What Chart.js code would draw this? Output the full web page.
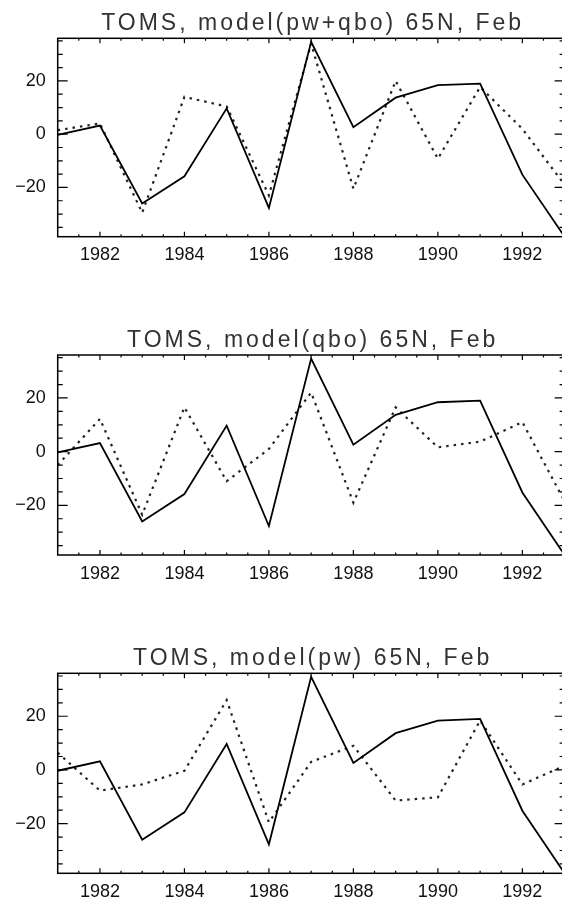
<!DOCTYPE html>
<html>
<head>
<meta charset="utf-8">
<title>TOMS vs model, 65N, Feb</title>
<script src="https://cdn.jsdelivr.net/npm/chart.js@4.4.1/dist/chart.umd.min.js"></script>
<style>
  html, body { margin: 0; padding: 0; background: #fff; overflow: hidden; }
  #wrap { position: relative; width: 562px; height: 899px; overflow: hidden; }
  #wrap canvas { position: absolute; left: 0; }
</style>
</head>
<body>
<div id="wrap">
  <canvas id="panel1"></canvas>
  <canvas id="panel2"></canvas>
  <canvas id="panel3"></canvas>
</div>
<script>
// data (anomalies, 65N, February)
const years = [1981, 1982, 1983, 1984, 1985, 1986, 1987, 1988, 1989, 1990, 1991, 1992, 1993];
const toms = [-0.3, 3.2, -26.0, -15.8, 9.7, -27.7, 34.7, 2.6, 13.7, 18.4, 19.0, -15.2, -38.5];
const modelPwQbo = [1.5, 4.0, -29.5, 14.0, 10.4, -23.0, 34.0, -20.5, 20.0, -9.2, 17.7, 2.0, -19.0];
const modelQbo = [-5.0, 12.2, -23.5, 16.5, -11.0, 1.0, 22.0, -19.0, 16.5, 1.6, 3.7, 11.0, -18.5];
const modelPw = [6.4, -7.7, -5.4, -0.3, 26.0, -19.5, 3.0, 9.0, -11.4, -10.2, 18.4, -5.4, 1.6];

const titles = [
  "TOMS, model(pw+qbo) 65N, Feb",
  "TOMS, model(qbo) 65N, Feb",
  "TOMS, model(pw) 65N, Feb"
];
const xTickYears = [1982, 1984, 1986, 1988, 1990, 1992];
const yTickValues = [-20, 0, 20];

// page layout: canvas top, plot top, plot bottom (px)
const layout = [
  { id: "panel1", top: 0,   plotTop: 38.3,  plotBottom: 236.7 },
  { id: "panel2", top: 315, plotTop: 355,   plotBottom: 555 },
  { id: "panel3", top: 633, plotTop: 673.3, plotBottom: 873.3 }
];
const modelSeries = [modelPwQbo, modelQbo, modelPw];

const CANVAS_W = 566;
const PLOT_LEFT = 57.7;
const PLOT_RIGHT = 564.6;
const BELOW = 26;

// frame, inward ticks (IDL style) and spaced title
const idlFrame = {
  id: "idlFrame",
  afterDraw(chart, args, opts) {
    const ctx = chart.ctx;
    const a = chart.chartArea;
    const x = chart.scales.x, y = chart.scales.y;
    ctx.save();
    ctx.strokeStyle = "#000";
    ctx.lineWidth = 1.2;
    ctx.beginPath();
    for (let v = -35; v <= 35; v += 5) {
      const py = y.getPixelForValue(v);
      const len = v % 20 === 0 ? 10 : 5;
      ctx.moveTo(a.left, py); ctx.lineTo(a.left + len, py);
      ctx.moveTo(a.right, py); ctx.lineTo(a.right - len, py);
    }
    for (let v = 1981.5; v < 1993; v += 0.5) {
      const px = x.getPixelForValue(v);
      const len = v % 2 === 0 ? 5 : 2.5;
      ctx.moveTo(px, a.bottom); ctx.lineTo(px, a.bottom - len);
      ctx.moveTo(px, a.top); ctx.lineTo(px, a.top + len);
    }
    ctx.stroke();
    ctx.lineWidth = 1.5;
    ctx.strokeRect(a.left, a.top, a.right - a.left, a.bottom - a.top);

    ctx.fillStyle = "#333";
    ctx.font = '23px "Liberation Sans", Arial, sans-serif';
    ctx.letterSpacing = "3px";
    ctx.textAlign = "center";
    ctx.textBaseline = "alphabetic";
    ctx.fillText(opts.text, (a.left + a.right) / 2 + 1.5, a.top - 8);
    ctx.restore();
  }
};

const tickFont = { family: '"Liberation Sans", Arial, sans-serif', size: 18 };

layout.forEach(function (p, i) {
  const el = document.getElementById(p.id);
  const plotH = p.plotBottom - p.plotTop;
  const padTop = p.plotTop - p.top;
  const h = Math.ceil(padTop + plotH + BELOW);
  el.width = CANVAS_W;
  el.height = h;
  el.style.top = p.top + "px";

  new Chart(el.getContext("2d"), {
    type: "line",
    data: {
      labels: years,
      datasets: [
        {
          label: "TOMS",
          data: years.map((yr, k) => ({ x: yr, y: toms[k] })),
          borderColor: "#000",
          borderWidth: 1.8,
          pointRadius: 0,
          tension: 0,
          fill: false
        },
        {
          label: "model",
          data: years.map((yr, k) => ({ x: yr, y: modelSeries[i][k] })),
          borderColor: "#222",
          borderWidth: 2.2,
          borderDash: [2.5, 5],
          pointRadius: 0,
          tension: 0,
          fill: false
        }
      ]
    },
    options: {
      responsive: false,
      animation: false,
      devicePixelRatio: 1,
      layout: { padding: { top: padTop, right: CANVAS_W - PLOT_RIGHT, left: 0, bottom: 0 } },
      plugins: {
        legend: { display: false },
        tooltip: { enabled: false },
        title: { display: false },
        idlFrame: { text: titles[i] }
      },
      scales: {
        x: {
          type: "linear",
          min: 1981,
          max: 1993,
          grid: { display: false },
          border: { display: false },
          afterBuildTicks: s => { s.ticks = xTickYears.map(v => ({ value: v })); },
          afterFit: s => { s.height = h - padTop - plotH; },
          ticks: {
            font: tickFont,
            color: "#111",
            padding: 0,
            maxRotation: 0,
            autoSkip: false,
            callback: v => String(v)
          }
        },
        y: {
          min: -38.5,
          max: 36,
          grid: { display: false },
          border: { display: false },
          afterBuildTicks: s => { s.ticks = yTickValues.map(v => ({ value: v })); },
          afterFit: s => { s.width = PLOT_LEFT; },
          ticks: {
            font: tickFont,
            color: "#111",
            padding: 4,
            callback: v => (v < 0 ? "\u2212" + Math.abs(v) : String(v))
          }
        }
      }
    },
    plugins: [idlFrame]
  });
});
</script>
</body>
</html>
